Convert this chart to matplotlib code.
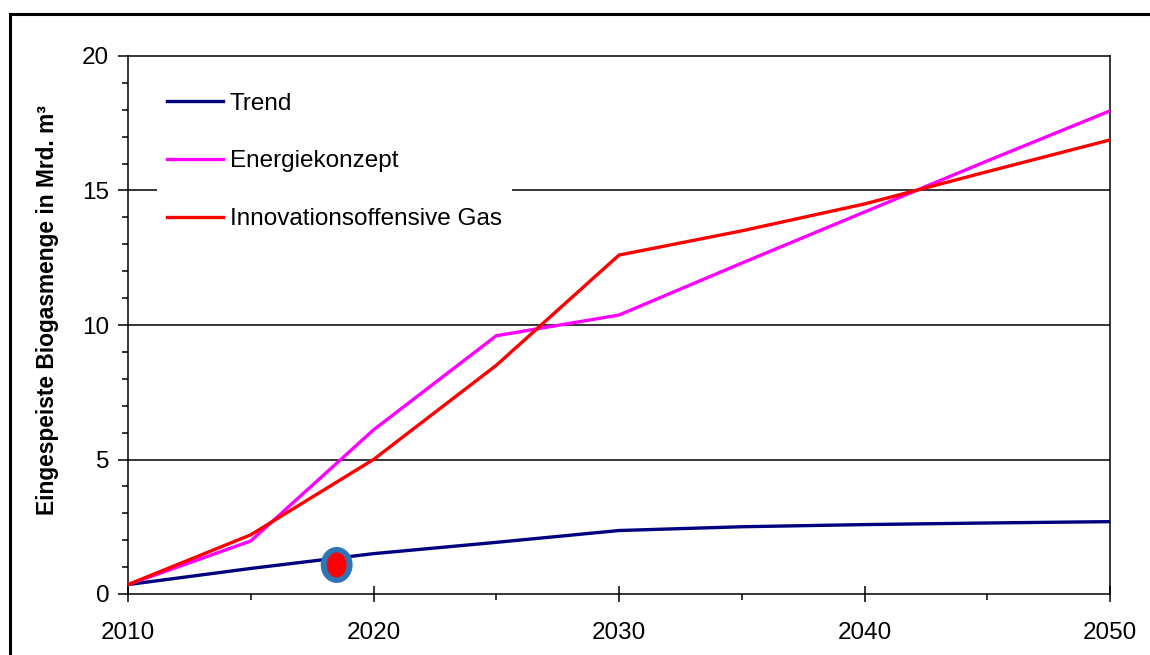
import numpy as np
import matplotlib
matplotlib.use("Agg")
import matplotlib.pyplot as plt
from matplotlib.patches import Ellipse, Rectangle
from matplotlib.ticker import MultipleLocator

plt.rcParams["font.family"] = ["Liberation Sans", "DejaVu Sans"]

years = [2010, 2015, 2020, 2025, 2030, 2035, 2040, 2045, 2050]
trend = [0.35, 0.95, 1.5, 1.92, 2.36, 2.5, 2.58, 2.64, 2.69]
energiekonzept = [0.35, 1.97, 6.1, 9.6, 10.37, 12.3, 14.2, 16.1, 17.96]
innovation = [0.35, 2.2, 5.0, 8.5, 12.6, 13.5, 14.5, 15.7, 16.88]

series_names = ["Trend", "Energiekonzept", "Innovationsoffensive Gas"]
series_colors = ["#000080", "#FF00FF", "#FF0000"]

# highlighted point on the trend curve
point_year = 2018.5
point_value = 1.08

fig = plt.figure(figsize=(11.5, 6.55), dpi=100)
ax = fig.add_axes([128 / 1150, 61 / 655, 982 / 1150, 538 / 655])

# outer frame around the whole chart
fig.patches.append(Rectangle((10 / 1150, -0.2), 1.2, 1.2 - 14 / 655,
                             transform=fig.transFigure, fill=False,
                             edgecolor="black", linewidth=2.2))

for yv in (5, 10, 15):
    ax.axhline(yv, color="black", linewidth=1.1, zorder=1)

for vals, name, col in zip([trend, energiekonzept, innovation], series_names, series_colors):
    ax.plot(years, vals, color=col, linewidth=2.4, label=name, zorder=3,
            solid_joinstyle="miter")

ax.add_patch(Ellipse((point_year, point_value), 1.30, 1.34,
                     facecolor="#2F75B5", edgecolor="none", zorder=5))
ax.add_patch(Ellipse((point_year, point_value), 0.81, 0.93,
                     facecolor="#FF0000", edgecolor="none", zorder=6))

ax.set_xlim(2010, 2050)
ax.set_ylim(0, 20)
ax.xaxis.set_major_locator(MultipleLocator(10))
ax.xaxis.set_minor_locator(MultipleLocator(5))
ax.yaxis.set_major_locator(MultipleLocator(5))
ax.yaxis.set_minor_locator(MultipleLocator(1))

ax.tick_params(axis="x", which="major", direction="inout", length=11, width=1.1,
               labelsize=17.5, pad=15)
ax.tick_params(axis="x", which="minor", direction="out", length=4.5, width=1.1)
ax.tick_params(axis="y", which="major", direction="out", length=7.5, width=1.1,
               labelsize=17.5, pad=6)
ax.tick_params(axis="y", which="minor", direction="out", length=4, width=1.1)

for sp in ax.spines.values():
    sp.set_linewidth(1.1)
    sp.set_color("black")

fig.text(48 / 1150, 1 - 310 / 655, "Eingespeiste Biogasmenge in Mrd. m³",
         rotation=90, ha="center", va="center", fontsize=16.4, fontweight="bold")

leg = ax.legend(loc="upper left", bbox_to_anchor=((157 - 128) / 982, (594 - 83) / 538),
                borderaxespad=0, frameon=True, fancybox=False, framealpha=1,
                edgecolor="none", facecolor="white", fontsize=17.5,
                handlelength=2.3, handletextpad=0.3, labelspacing=1.47, borderpad=0.4)
leg.set_zorder(4)

fig.savefig("out.png", dpi=100)
